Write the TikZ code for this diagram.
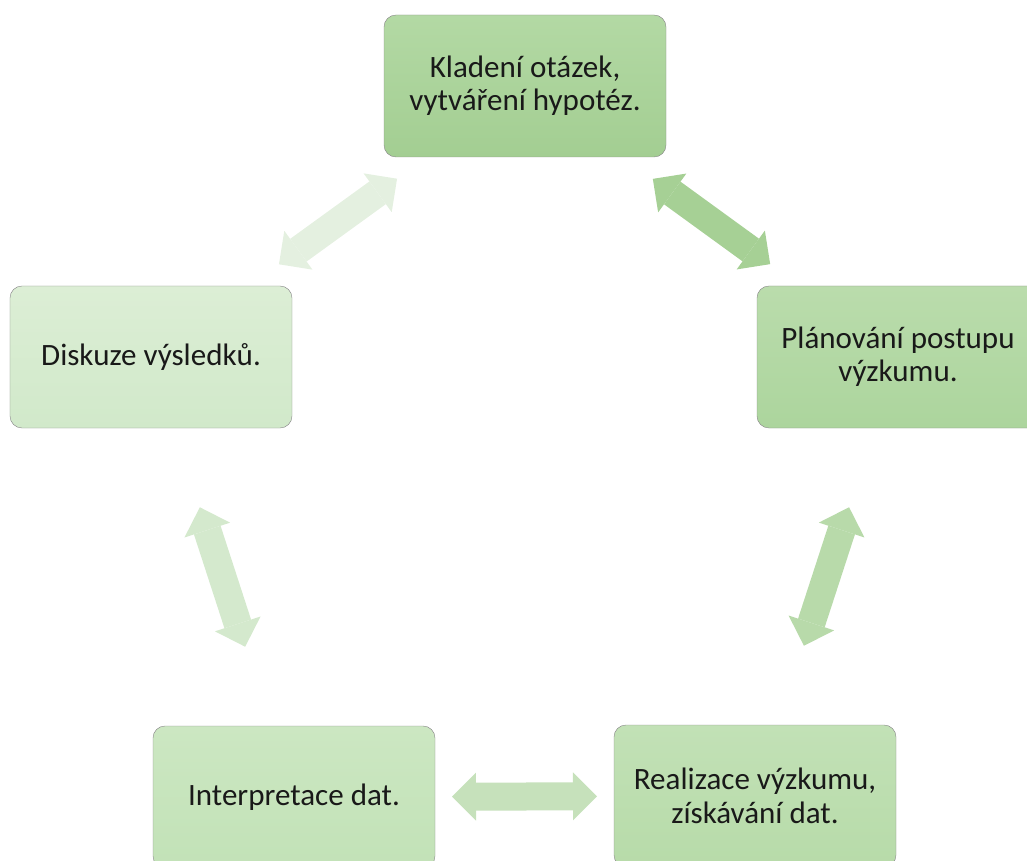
\documentclass[tikz,border=0pt]{standalone}
\usepackage{fontspec}
\setmainfont{Carlito}
\usetikzlibrary{arrows.meta}

\definecolor{boxAt}{HTML}{B3D9A4}
\definecolor{boxAb}{HTML}{A3CE92}
\definecolor{boxBt}{HTML}{BADCAC}
\definecolor{boxBb}{HTML}{ACD59D}
\definecolor{boxCt}{HTML}{C2E1B6}
\definecolor{boxCb}{HTML}{B7DBA9}
\definecolor{boxDt}{HTML}{CCE7C2}
\definecolor{boxDb}{HTML}{C2E2B7}
\definecolor{boxEt}{HTML}{DCEED5}
\definecolor{boxEb}{HTML}{D1E9CA}
\definecolor{arrAB}{HTML}{A6D095}
\definecolor{arrBC}{HTML}{B8DAAA}
\definecolor{arrCD}{HTML}{C6E1BB}
\definecolor{arrDE}{HTML}{D4E9CD}
\definecolor{arrEA}{HTML}{E4F0E0}

\begin{document}
\begin{tikzpicture}
  [
    x=0.3mm, y=-0.3mm,
    phase/.style = {draw=black!45, thin, rounded corners=3.6mm,
                    minimum width=84.6mm, minimum height=42.6mm,
                    align=center, text=black!90,
                    font=\fontsize{26.5}{28.5}\selectfont},
    link/.style  = {line width=8.4mm,
                    {Triangle[width=14.4mm,length=7.2mm,line width=0pt]}-{Triangle[width=14.4mm,length=7.2mm,line width=0pt]},
                    shorten <=47.4mm, shorten >=47.4mm},
  ]

%Size of the page
\useasboundingbox (0,0) rectangle (1027,861);

%The five phases of the cycle
\node[phase, top color=boxAt, bottom color=boxAb] (ask) at (525,86)
  {Kladení otázek,\\vytváření hypotéz.};
\node[phase, top color=boxBt, bottom color=boxBb] (plan) at (898,357)
  {Plánování postupu\\výzkumu.};
\node[phase, top color=boxCt, bottom color=boxCb] (run) at (755,796)
  {Realizace výzkumu,\\získávání dat.};
\node[phase, top color=boxDt, bottom color=boxDb] (interp) at (294,797)
  {Interpretace dat.};
\node[phase, top color=boxEt, bottom color=boxEb] (discuss) at (151,357)
  {Diskuze výsledků.};

%Double arrows between neighbours
\draw[link, arrAB] (ask.center) -- (plan.center);
\draw[link, arrBC] (plan.center) -- (run.center);
\draw[link, arrCD] (run.center) -- (interp.center);
\draw[link, arrDE] (interp.center) -- (discuss.center);
\draw[link, arrEA] (discuss.center) -- (ask.center);
\end{tikzpicture}
\end{document}
